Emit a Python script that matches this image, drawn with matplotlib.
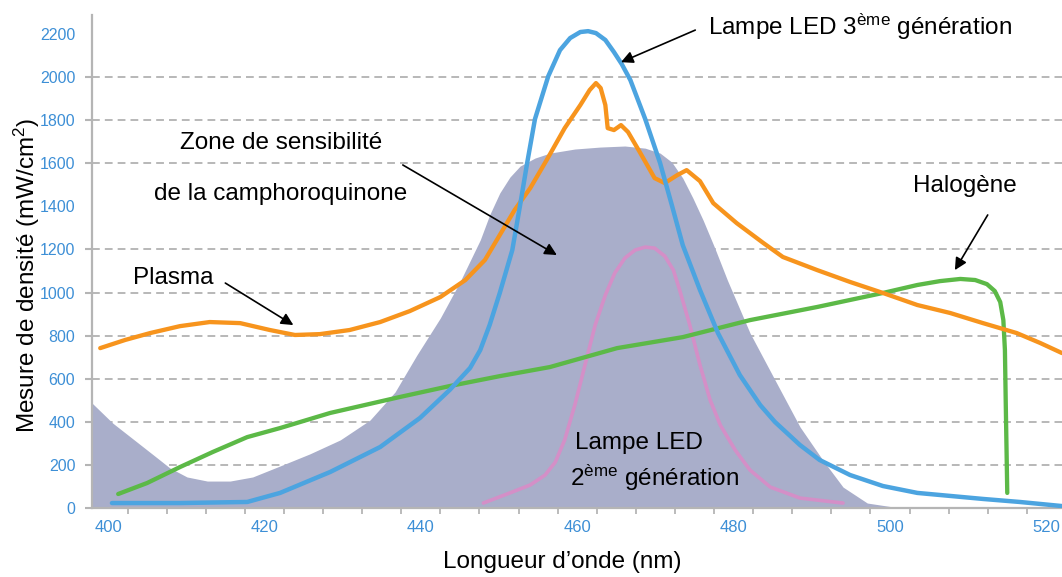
import matplotlib
matplotlib.use("Agg")
import matplotlib.pyplot as plt

plt.rcParams['font.family'] = ['Liberation Sans', 'DejaVu Sans']

# ---- data (wavelength nm, density mW/cm2) ----
zone_x = [397.95, 400.6, 403.7, 406.3, 407.9, 410.1, 412.7, 415.6, 418.5, 422.0, 425.8, 429.7,
          433.5, 436.7, 439.5, 442.5, 445.0, 447.6, 448.8, 450.1, 451.4, 452.7, 454.6, 456.5,
          459.7, 462.9, 466.1, 468.7, 470.6, 472.1, 473.5, 474.8, 476.1, 477.6, 479.2, 482.1,
          485.5, 488.5, 491.4, 494.0, 497.1, 501.3]
zone_y = [487, 394, 306, 232, 186, 144, 125, 125, 144, 195, 251, 316,
          408, 538, 710, 882, 1049, 1244, 1360, 1462, 1536, 1587, 1624, 1647,
          1666, 1675, 1680, 1670, 1647, 1605, 1531, 1438, 1336, 1206, 1058, 812,
          580, 376, 223, 97, 23, 0]

led3_x = [400.5, 409.2, 417.8, 422.0, 428.4, 434.8, 439.9, 443.7, 446.3, 447.6, 448.8, 450.1,
          451.7, 452.7, 453.6, 454.6, 456.3, 457.8, 459.1, 460.4, 461.4, 462.4, 463.6, 464.7,
          465.7, 466.8, 468.7, 470.6, 472.1, 473.5, 475.7, 478.0, 480.8, 483.4, 485.3, 488.5,
          491.0, 494.9, 499.1, 503.5, 507.7, 511.9, 516.6, 522.0]
led3_y = [23, 23, 28, 70, 167, 283, 418, 548, 650, 733, 849, 998,
          1197, 1406, 1601, 1805, 2004, 2125, 2181, 2209, 2213, 2204, 2172, 2116,
          2060, 1986, 1805, 1601, 1406, 1220, 1012, 812, 617, 478, 399, 292,
          223, 153, 102, 70, 56, 42, 28, 9]

plasma_x = [399.0, 402.2, 405.4, 409.2, 413.0, 416.9, 420.7, 423.9, 427.1, 430.9, 434.8, 438.6,
            442.5, 445.7, 448.2, 450.1, 452.0, 454.0, 456.1, 458.4, 460.4, 461.6, 462.4, 463.0,
            463.6, 463.9, 464.7, 465.6, 466.5, 468.0, 469.9, 471.2, 472.8, 474.0, 475.7, 477.4,
            480.4, 483.8, 486.3, 490.7, 494.9, 499.1, 503.5, 507.7, 511.9, 516.2, 519.2, 522.0]
plasma_y = [742, 780, 812, 844, 863, 858, 826, 803, 807, 826, 863, 914,
            979, 1058, 1151, 1267, 1383, 1485, 1615, 1763, 1870, 1940, 1972, 1949,
            1870, 1763, 1754, 1777, 1745, 1652, 1531, 1508, 1545, 1568, 1517, 1415,
            1322, 1230, 1165, 1104, 1049, 998, 942, 905, 858, 812, 766, 719]

halo_x = [401.3, 405.0, 409.2, 413.4, 417.8, 422.0, 428.4, 437.3, 443.7, 450.1, 456.5, 465.1,
          473.5, 482.1, 490.7, 499.1, 503.5, 506.4, 509.0, 510.9, 512.4, 513.4, 514.1, 514.5,
          514.7, 514.8, 515.0]
halo_y = [65, 116, 190, 260, 329, 371, 441, 515, 566, 612, 654, 742,
          793, 872, 933, 998, 1035, 1053, 1063, 1058, 1039, 1007, 956, 872,
          733, 501, 70]

led2_x = [448.0, 451.4, 454.0, 455.9, 457.2, 458.4, 459.7, 461.0, 462.3, 463.6, 464.8, 466.1,
          467.4, 468.7, 469.9, 471.2, 472.3, 473.1, 474.4, 475.7, 477.0, 478.3, 480.2, 482.1,
          484.7, 488.5, 494.0]
led2_y = [23, 70, 107, 153, 213, 316, 478, 664, 849, 988, 1090, 1160,
          1197, 1211, 1206, 1169, 1104, 1012, 849, 664, 501, 385, 269, 176,
          97, 46, 23]

x_ticks = [400, 420, 440, 460, 480, 500, 520]
x_minor = [402.5 + 5 * k for k in range(24)]
y_ticks = [0, 200, 400, 600, 800, 1000, 1200, 1400, 1600, 1800, 2000, 2200]
no_grid = [1400, 2200]

# ---- figure ----
W, H = 1062, 577
fig = plt.figure(figsize=(W / 100, H / 100), dpi=100)
ax = fig.add_axes([92 / W, (H - 508) / H, 970 / W, 493 / H])
ax.set_xlim(397.95, 522.0)
ax.set_ylim(0, 2288)

tick_blue = '#3d8fd6'
grey = '#b5b5b5'

for s in ['top', 'right']:
    ax.spines[s].set_visible(False)
for s in ['left', 'bottom']:
    ax.spines[s].set_color(grey)
    ax.spines[s].set_linewidth(1.6)

ax.set_yticks(y_ticks)
ax.set_yticklabels([str(v) for v in y_ticks])
ax.set_xticks(x_ticks)
ax.set_xticklabels([str(v) for v in x_ticks])
ax.set_xticks(x_minor, minor=True)
ax.tick_params(axis='y', which='major', length=5, width=1.5, color=grey, pad=7,
               labelcolor=tick_blue, labelsize=11.5)
ax.tick_params(axis='x', which='major', length=0, pad=9, labelcolor=tick_blue, labelsize=12)
ax.tick_params(axis='x', which='minor', length=4, width=1.3, color=grey, direction='out')

ax.grid(axis='y', which='major', color='#b8b8b8', linewidth=1.4, linestyle=(0, (4, 2.6)))
for t, v in zip(ax.yaxis.get_major_ticks(), y_ticks):
    if v in no_grid:
        t.tick1line.set_visible(False)
        t.gridline.set_visible(False)
ax.set_axisbelow(True)

# shaded sensitivity zone
ax.fill_between(zone_x, zone_y, 0, color='#a9aeca', linewidth=0, zorder=1.5)

lk = dict(solid_joinstyle='round', solid_capstyle='round')
ax.plot(led2_x, led2_y, color='#d48fc7', linewidth=2.6, zorder=3, **lk)
ax.plot(halo_x, halo_y, color='#5cb947', linewidth=3.1, zorder=3.1, **lk)
ax.plot(plasma_x, plasma_y, color='#f7941d', linewidth=3.1, zorder=3.2, **lk)
ax.plot(led3_x, led3_y, color='#4ca4e0', linewidth=3.2, zorder=3.3, **lk)

# annotations
fs = 17.5
arrow = dict(arrowstyle='-|>', color='black', lw=1.2, mutation_scale=18, shrinkA=0, shrinkB=0)
ax.text(422.1, 1694, 'Zone de sensibilité', ha='center', va='center', fontsize=fs, zorder=5)
ax.text(422.1, 1457, 'de la camphoroquinone', ha='center', va='center', fontsize=fs, zorder=5)
ax.annotate('', xy=(457.4, 1174), xytext=(437.7, 1592), arrowprops=arrow, zorder=5)

ax.text(408.4, 1067, 'Plasma', ha='center', va='center', fontsize=fs, zorder=5)
ax.annotate('', xy=(423.7, 849), xytext=(415.0, 1044), arrowprops=arrow, zorder=5)

ax.text(509.6, 1494, 'Halogène', ha='center', va='center', fontsize=fs, zorder=5)
ax.annotate('', xy=(508.3, 1104), xytext=(512.5, 1360), arrowprops=arrow, zorder=5)

ax.text(467.9, 302, 'Lampe LED', ha='center', va='center', fontsize=fs, zorder=5)
ax.text(469.9, 139, r'2$\mathregular{^{ème}}$ génération', ha='center', va='center', fontsize=fs, zorder=5)

ax.text(476.7, 2232, r'Lampe LED 3$\mathregular{^{ème}}$ génération', ha='left', va='center',
        fontsize=fs, zorder=5, clip_on=False)
ax.annotate('', xy=(465.6, 2069), xytext=(475.1, 2218), arrowprops=arrow, zorder=5)

fig.text(562 / W, 1 - 562 / H, 'Longueur d’onde (nm)', ha='center', va='center', fontsize=fs)
fig.text(27 / W, 1 - 275 / H, r'Mesure de densité (mW/cm$\mathregular{^2}$)', ha='center',
         va='center', rotation=90, fontsize=fs)

fig.savefig('out.png', dpi=100)
